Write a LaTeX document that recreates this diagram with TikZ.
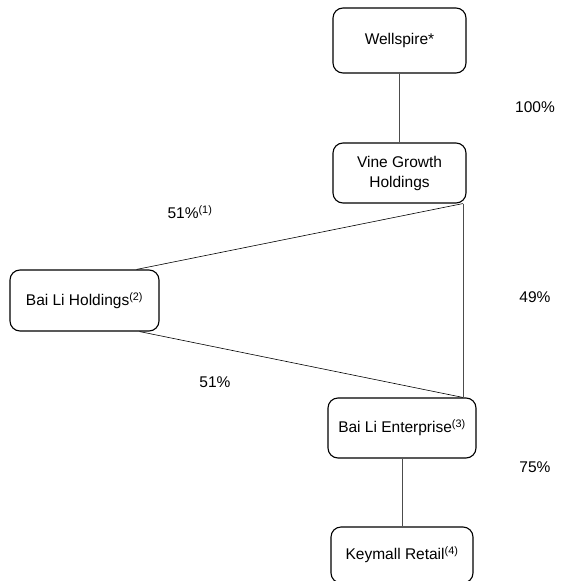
\documentclass[tikz,border=0pt]{standalone}
\usepackage{fontspec}
\setmainfont{Liberation Sans}
\begin{document}
\begin{tikzpicture}[x=1pt,y=-1pt,
  box/.style={draw=black,line width=1.1pt,rounded corners=10pt,align=center,font=\fontsize{15.5}{20}\selectfont,inner sep=2pt},
  link/.style={draw=black!70,line width=0.8pt},
  diag/.style={draw=black,line width=0.6pt},
  pct/.style={font=\fontsize{15.5}{19}\selectfont,inner sep=0pt}]
\useasboundingbox[fill=white] (0,0) rectangle (585,580);
\node[box,minimum width=133pt,minimum height=65pt] (well) at (399.5,40.5) {Wellspire*};
\node[box,minimum width=133pt,minimum height=60pt] (vine) at (399.5,173) {Vine Growth\\Holdings};
\node[box,minimum width=149pt,minimum height=61pt] (bh) at (84.5,300.5) {Bai Li Holdings\textsuperscript{(2)}};
\node[box,minimum width=148pt,minimum height=60pt] (ent) at (402,428) {Bai Li Enterprise\textsuperscript{(3)}};
\node[box,minimum width=142pt,minimum height=56pt] (key) at (402,555) {Keymall Retail\textsuperscript{(4)}};
\coordinate (vj) at ([xshift=63.5pt]vine.south);
\coordinate (ej) at ([xshift=61pt]ent.north);
\coordinate (bt) at ([xshift=52pt]bh.north);
\coordinate (bb) at ([xshift=55pt]bh.south);
\draw[link] (well.south) -- (vine.north);
\draw[link] (vj) -- (ej);
\draw[diag] (vj) -- (bt);
\draw[diag] (bb) -- (ej);
\draw[link] (ent.south) -- (key.north);
\node[pct] (p100) at (535,107) {100\%};
\node[pct] (p51a) at (190,212) {51\%\textsuperscript{(1)}};
\node[pct] (p49) at (535,297) {49\%};
\node[pct] (p51b) at (215,382) {51\%};
\node[pct] (p75) at (535,467) {75\%};
\end{tikzpicture}
\end{document}
